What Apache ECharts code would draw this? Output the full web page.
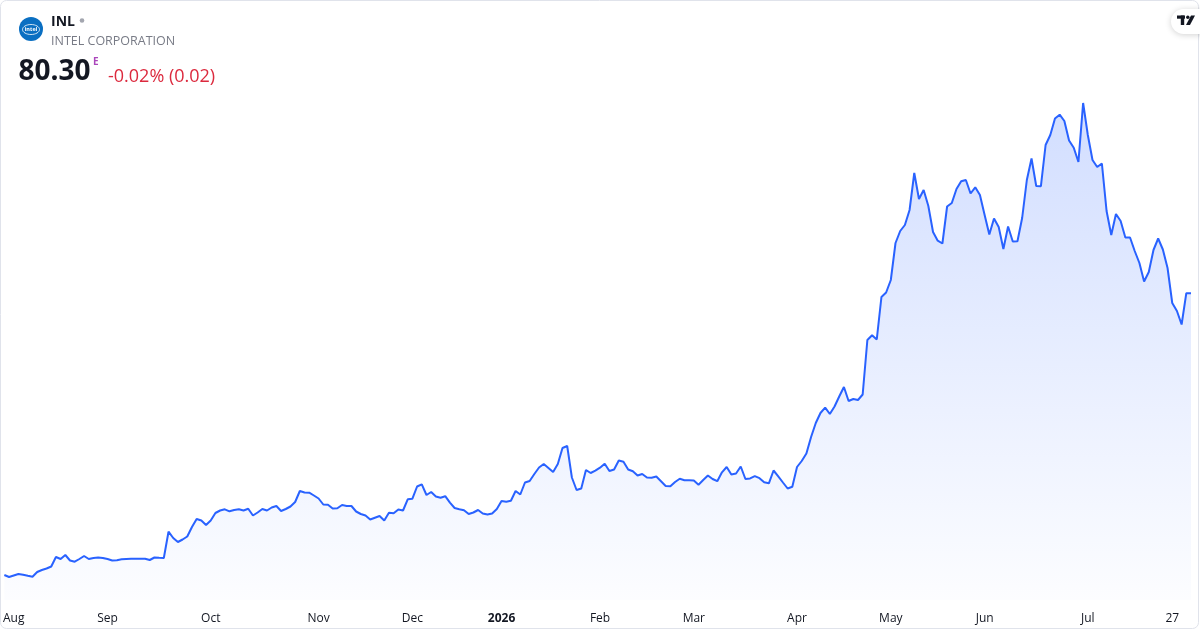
<!DOCTYPE html>
<html>
<head>
<meta charset="utf-8">
<script src="https://cdn.jsdelivr.net/npm/echarts@6/dist/echarts.min.js"></script>
<style>
html,body{margin:0;padding:0;background:#fff;}
#chart{width:1200px;height:630px;}
</style>
</head>
<body>
<div id="chart"></div>
<script>
// Tick labels: one per segment (label sits under first point of each segment)
const tickLabels = ['', 'Aug', 'Sep', 'Oct', 'Nov', 'Dec', '2026', 'Feb', 'Mar', 'Apr', 'May', 'Jun', 'Jul', '27'];

// Daily closes, grouped by segment
const jul25 = [23.96, 23.56];
const aug25 = [23.86, 24.16, 24.00, 23.80, 23.62, 24.56, 24.96, 25.26, 25.66, 27.56, 27.16, 27.96, 26.86, 26.62, 27.16, 27.76, 27.16, 27.36, 27.46, 27.36];
const sep25 = [27.16, 26.86, 26.92, 27.10, 27.16, 27.20, 27.22, 27.22, 27.22, 26.96, 27.46, 27.40, 27.36, 32.62, 31.36, 30.56, 31.06, 31.66, 33.56, 35.16, 34.86, 33.96];
const oct25 = [34.86, 36.36, 36.86, 37.10, 36.70, 36.96, 37.10, 36.86, 37.20, 35.86, 36.46, 37.16, 36.86, 37.46, 37.76, 36.76, 37.16, 37.66, 38.56, 40.76, 40.46, 40.42, 39.86];
const nov25 = [39.26, 38.06, 38.02, 37.26, 37.30, 37.96, 37.76, 37.76, 36.66, 36.16, 35.86, 35.06, 35.42, 35.76, 34.86, 36.42, 36.30, 37.06, 36.86, 39.10];
const dec25 = [39.22, 41.66, 42.10, 39.96, 40.56, 39.66, 39.40, 39.72, 38.42, 37.36, 37.12, 36.92, 36.16, 36.46, 36.96, 36.26, 36.06, 36.26, 37.16];
const jan26 = [38.76, 38.62, 38.80, 40.76, 40.06, 42.46, 42.76, 44.16, 45.46, 46.16, 45.36, 44.56, 46.16, 49.36, 49.76, 43.46, 40.96, 41.26, 44.96, 44.36, 44.82];
const feb26 = [45.42, 46.22, 44.76, 45.06, 46.86, 46.62, 45.06, 44.70, 43.86, 44.16, 43.46, 43.42, 43.66, 42.72, 41.76, 41.72, 42.56, 43.22, 42.92, 42.90];
const mar26 = [42.84, 42.00, 42.96, 43.86, 43.16, 42.72, 44.50, 45.56, 44.06, 44.26, 45.66, 43.16, 43.28, 43.74, 43.32, 42.50, 42.30, 44.86, 43.70, 42.46, 41.26, 41.60];
const apr26 = [45.56, 46.76, 48.26, 51.56, 54.36, 56.36, 57.42, 56.16, 57.66, 59.66, 61.56, 58.76, 59.16, 58.96, 60.06, 70.96, 71.92, 71.06, 79.56, 80.46];
const may26 = [82.96, 90.36, 92.76, 93.96, 96.96, 104.36, 99.16, 100.96, 97.76, 92.56, 90.82, 90.26, 97.66, 98.36, 101.16, 102.70, 102.96, 100.26, 101.50, 99.96];
const jun26 = [95.96, 92.06, 95.26, 93.56, 89.16, 93.66, 90.66, 90.72, 95.36, 102.96, 107.26, 101.76, 101.72, 109.96, 111.96, 115.26, 116.02, 114.76, 110.86, 109.40, 106.56, 118.36];
const jul26 = [111.96, 106.96, 105.56, 106.26, 96.76, 91.96, 96.16, 94.76, 91.46, 91.46, 88.76, 86.36, 82.66, 84.56, 88.96, 91.26, 89.06, 85.36];
const jul26End = [78.36, 76.76, 74.06, 80.32, 80.30];

const segments = [jul25, aug25, sep25, oct25, nov25, dec25, jan26, feb26, mar26, apr26, may26, jun26, jul26, jul26End];

const categories = [];
const labelAt = [];
const values = [];
segments.forEach((seg, k) => {
  seg.forEach((v, j) => {
    categories.push(String(values.length));
    labelAt.push(j === 0 ? tickLabels[k] : '');
    values.push(v);
  });
});

const FONT = '"Open Sans", "Noto Sans", sans-serif';
const chart = echarts.init(document.getElementById('chart'), null, {renderer: 'canvas'});
chart.setOption({
  animation: false,
  backgroundColor: '#ffffff',
  grid: {left: 2, right: 9, top: 90, bottom: 30},
  xAxis: {
    type: 'category',
    data: categories,
    boundaryGap: false,
    axisLine: {show: false},
    axisTick: {show: false},
    splitLine: {show: false},
    axisLabel: {
      interval: 0,
      hideOverlap: false,
      margin: 13,
      fontFamily: FONT,
      fontSize: 12,
      color: '#131722',
      formatter: (val, idx) => {
        const l = labelAt[idx];
        if (!l) return '';
        return l === '2026' ? '{b|' + l + '}' : l;
      },
      rich: {b: {fontWeight: 'bold', fontFamily: FONT, fontSize: 12, color: '#131722'}}
    }
  },
  yAxis: {
    type: 'value',
    min: 18.96,
    max: 120.96,
    show: false,
    splitLine: {show: false}
  },
  series: [{
    type: 'line',
    data: values,
    showSymbol: false,
    symbol: 'none',
    lineStyle: {color: '#2962ff', width: 2},
    areaStyle: {
      color: new echarts.graphic.LinearGradient(0, 0, 0, 1, [
        {offset: 0, color: 'rgba(41,98,255,0.30)'},
        {offset: 1, color: 'rgba(41,98,255,0.02)'}
      ])
    }
  }],
  graphic: [
    {type: 'rect', shape: {x: 0.5, y: 0.5, width: 1198, height: 628, r: 6}, style: {fill: 'none', stroke: '#e0e3eb', lineWidth: 1}, z: 100},
    // logo
    {type: 'circle', shape: {cx: 31, cy: 29, r: 12}, style: {fill: '#0a6fc2'}, z: 100},
    {type: 'ellipse', shape: {cx: 31, cy: 29.5, rx: 8.5, ry: 5}, style: {fill: 'none', stroke: '#ffffff', lineWidth: 0.8}, z: 101},
    {type: 'text', x: 31, y: 29.5, style: {text: 'intel', fill: '#ffffff', font: 'bold 5.5px ' + FONT, textAlign: 'center', textVerticalAlign: 'middle'}, z: 102},
    {type: 'text', x: 51, y: 22, style: {text: 'INL', fill: '#131722', font: 'bold 14px ' + FONT, textVerticalAlign: 'middle'}, z: 100},
    {type: 'circle', shape: {cx: 82, cy: 20.5, r: 2.3}, style: {fill: '#a3a6af'}, z: 100},
    {type: 'text', x: 51, y: 41.5, style: {text: 'INTEL CORPORATION', fill: '#787b86', font: '12.5px ' + FONT, textVerticalAlign: 'middle'}, z: 100},
    {type: 'text', x: 18.5, y: 72, style: {text: '80.30', fill: '#131722', font: 'bold 28px ' + FONT, textVerticalAlign: 'middle'}, z: 100},
    {type: 'text', x: 93, y: 62, style: {text: 'E', fill: '#ab47bc', font: 'bold 10px ' + FONT, textVerticalAlign: 'middle'}, z: 100},
    {type: 'text', x: 108, y: 76.5, style: {text: '-0.02% (0.02)', fill: '#dc2a3e', font: '18px ' + FONT, textVerticalAlign: 'middle'}, z: 100},
    // TradingView badge
    {type: 'rect', shape: {x: 1171, y: 9, width: 40, height: 25, r: 12.5}, style: {fill: '#ffffff', shadowBlur: 6, shadowColor: 'rgba(0,0,0,0.18)', shadowOffsetY: 1}, z: 100},
    {type: 'rect', shape: {x: 1177, y: 15.5, width: 8, height: 3.2}, style: {fill: '#131722'}, z: 101},
    {type: 'rect', shape: {x: 1180.8, y: 15.5, width: 3.4, height: 9.5}, style: {fill: '#131722'}, z: 101},
    {type: 'circle', shape: {cx: 1187.8, cy: 17.2, r: 1.7}, style: {fill: '#131722'}, z: 101},
    {type: 'polygon', shape: {points: [[1191, 15.5], [1195, 15.5], [1190, 25], [1186, 25]]}, style: {fill: '#131722'}, z: 101}
  ]
});
</script>
</body>
</html>
